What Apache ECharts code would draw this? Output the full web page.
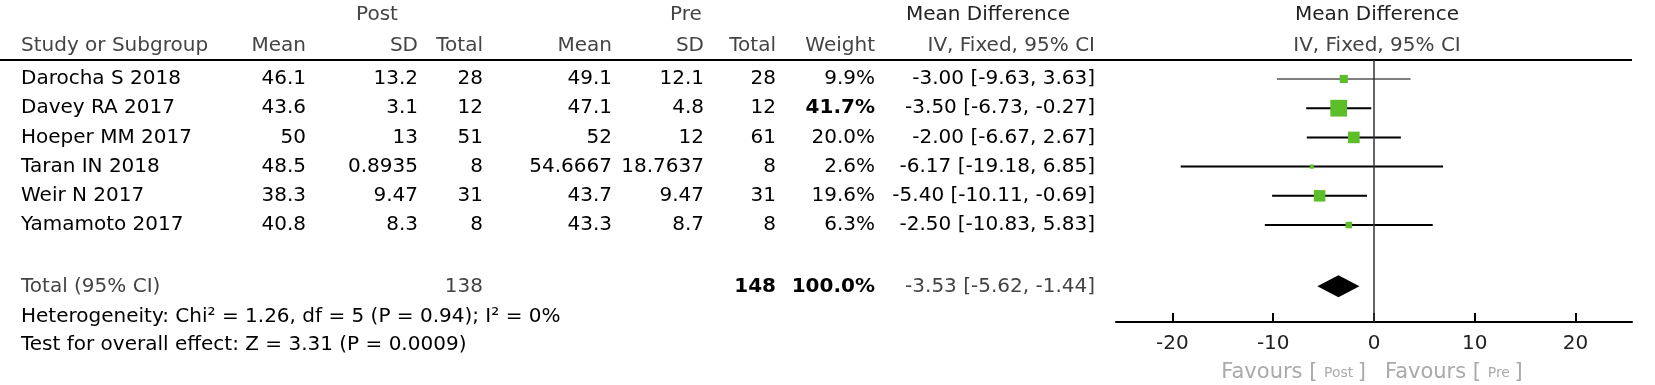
<!DOCTYPE html>
<html><head><meta charset="utf-8">
<script src="https://cdn.jsdelivr.net/npm/echarts@6/dist/echarts.min.js"></script>
<style>html,body{margin:0;padding:0;background:#fff}#c{width:1655px;height:385px}</style>
</head><body><div id="c"></div><script>
// ---- data ----
const studies   = ['Darocha S 2018','Davey RA 2017','Hoeper MM 2017','Taran IN 2018','Weir N 2017','Yamamoto 2017'];
const postMean  = ['46.1','43.6','50','48.5','38.3','40.8'];
const postSD    = ['13.2','3.1','13','0.8935','9.47','8.3'];
const postTotal = [28,12,51,8,31,8];
const preMean   = ['49.1','47.1','52','54.6667','43.7','43.3'];
const preSD     = ['12.1','4.8','12','18.7637','9.47','8.7'];
const preTotal  = [28,12,61,8,31,8];
const weight    = [9.9,41.7,20.0,2.6,19.6,6.3];
const md        = [-3.00,-3.50,-2.00,-6.17,-5.40,-2.50];
const ciLow     = [-9.63,-6.73,-6.67,-19.18,-10.11,-10.83];
const ciHigh    = [3.63,-0.27,2.67,6.85,-0.69,5.83];
const totalPost = 138, totalPre = 148, totalWeight = 100.0;
const totalMD = -3.53, totalLow = -5.62, totalHigh = -1.44;
const xTicks = [-20,-10,0,10,20];
const heterogeneity = 'Heterogeneity: Chi² = 1.26, df = 5 (P = 0.94); I² = 0%';
const overallEffect = 'Test for overall effect: Z = 3.31 (P = 0.0009)';

const FONT = 'DejaVu Sans';
const FS = 20;
const fmt2 = v => v.toFixed(2);
const ciText = (m,l,h) => fmt2(m) + ' [' + fmt2(l) + ', ' + fmt2(h) + ']';
const TOTAL_ROW = 7.1;

const chart = echarts.init(document.getElementById('c'), null, {renderer:'canvas'});
chart.setOption({
  animation:false,
  backgroundColor:'#fff',
  grid:{left:1116, top:60, width:516, height:262},
  xAxis:{type:'value', min:-25.6, max:25.6, position:'bottom',
    axisLine:{onZero:false, lineStyle:{color:'#000', width:2}},
    axisTick:{show:true, inside:true, length:9, lineStyle:{color:'#000', width:2}, customValues:xTicks},
    axisLabel:{customValues:xTicks, fontFamily:FONT, fontSize:FS, color:'#222', margin:12},
    splitLine:{show:false}},
  yAxis:{type:'value', inverse:true, min:-0.65, max:8.32, show:false},
  series:[
    {type:'custom', name:'ci', clip:false,
      data: studies.map((s,i)=>[ciLow[i], ciHigh[i], i]),
      renderItem:(params, api)=>{
        const i = params.dataIndex;
        const a = api.coord([api.value(0), api.value(2)]);
        const b = api.coord([api.value(1), api.value(2)]);
        return {type:'line', shape:{x1:a[0], y1:a[1], x2:b[0], y2:b[1]},
          style:{stroke: i===0 ? '#555' : '#000', lineWidth: i===0 ? 1.5 : 2}};
      }},
    {type:'scatter', name:'md', symbol:'rect',
      data: studies.map((s,i)=>[md[i], i, weight[i]]),
      symbolSize: v => Math.sqrt(v[2]) * 2.6,
      itemStyle:{color:'#5cbf2a', opacity:1},
      markLine:{silent:true, symbol:'none', label:{show:false},
        lineStyle:{color:'#333', width:1.5, type:'solid'},
        data:[{xAxis:0}]}},
    {type:'custom', name:'total', clip:false,
      data:[[totalLow, totalMD, totalHigh, TOTAL_ROW]],
      renderItem:(params, api)=>{
        const r = api.value(3);
        const l = api.coord([api.value(0), r]);
        const c = api.coord([api.value(1), r]);
        const h = api.coord([api.value(2), r]);
        const hh = 11;
        return {type:'polygon', shape:{points:[[l[0],l[1]],[c[0],c[1]-hh],[h[0],h[1]],[c[0],c[1]+hh]]},
          style:{fill:'#000'}};
      }}
  ]
});

// ---- table text ----
const rowY = r => chart.convertToPixel({yAxisIndex:0}, r);
const g = [];
function txt(x, y, s, align, opt) {
  g.push(Object.assign({type:'text', x:x, y:y, silent:true,
    style:Object.assign({text:String(s), fontFamily:FONT, fontSize:FS, fill:'#000',
      textAlign:align||'right', textVerticalAlign:'middle'}, (opt||{}))}));
}
const HC = '#444';
// header rows
txt(377, 15, 'Post', 'center', {fill:HC});
txt(686, 15, 'Pre', 'center', {fill:HC});
txt(988, 15, 'Mean Difference', 'center', {fill:'#222'});
txt(1377, 15, 'Mean Difference', 'center', {fill:'#222'});
const hy = 46;
txt(21, hy, 'Study or Subgroup', 'left', {fill:HC});
txt(306, hy, 'Mean', 'right', {fill:HC});
txt(418, hy, 'SD', 'right', {fill:HC});
txt(483, hy, 'Total', 'right', {fill:HC});
txt(612, hy, 'Mean', 'right', {fill:HC});
txt(704, hy, 'SD', 'right', {fill:HC});
txt(776, hy, 'Total', 'right', {fill:HC});
txt(875, hy, 'Weight', 'right', {fill:HC});
txt(1095, hy, 'IV, Fixed, 95% CI', 'right', {fill:HC});
txt(1377, hy, 'IV, Fixed, 95% CI', 'center', {fill:HC});
g.push({type:'line', silent:true, shape:{x1:0, y1:60, x2:1632, y2:60}, style:{stroke:'#000', lineWidth:2}});

studies.forEach((s,i)=>{
  const y = rowY(i);
  txt(21, y, s, 'left');
  txt(306, y, postMean[i]);
  txt(418, y, postSD[i]);
  txt(483, y, postTotal[i]);
  txt(612, y, preMean[i]);
  txt(704, y, preSD[i]);
  txt(776, y, preTotal[i]);
  txt(875, y, weight[i].toFixed(1) + '%', 'right', i===1 ? {fontWeight:'bold'} : {});
  txt(1095, y, ciText(md[i], ciLow[i], ciHigh[i]));
});
const ty = rowY(TOTAL_ROW);
txt(21, ty, 'Total (95% CI)', 'left', {fill:HC});
txt(483, ty, totalPost, 'right', {fill:HC});
txt(776, ty, totalPre, 'right', {fontWeight:'bold'});
txt(875, ty, totalWeight.toFixed(1) + '%', 'right', {fontWeight:'bold'});
txt(1095, ty, ciText(totalMD, totalLow, totalHigh), 'right', {fill:HC});
txt(21, 317, heterogeneity, 'left');
txt(21, 345, overallEffect, 'left');

// favours
const favRich = {a:{fontFamily:FONT, fontSize:21, fill:'#aaa'}, b:{fontFamily:FONT, fontSize:14, fill:'#aaa'}};
g.push({type:'text', x:1366, y:373, silent:true, style:{
  rich:favRich, text:'{a|Favours [ }{b|Post }{a|]}', textAlign:'right', textVerticalAlign:'middle'}});
g.push({type:'text', x:1385, y:373, silent:true, style:{
  rich:favRich, text:'{a|Favours [ }{b|Pre }{a|]}', textAlign:'left', textVerticalAlign:'middle'}});

chart.setOption({graphic:g});
</script></body></html>
